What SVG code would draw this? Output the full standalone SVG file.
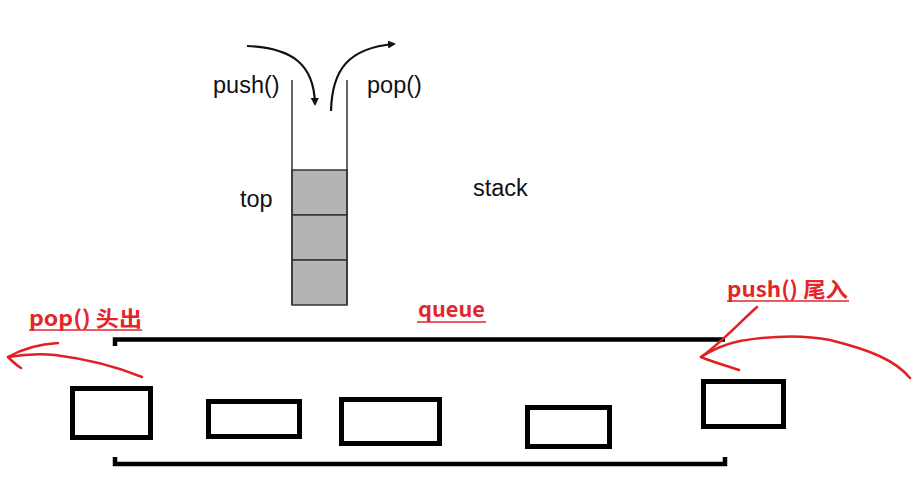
<svg xmlns="http://www.w3.org/2000/svg" width="924" height="480" viewBox="0 0 924 480">
<style>
.lbl{font-family:"Liberation Sans",Arial,sans-serif;font-size:23.5px;fill:#111}
.red{font-family:"Noto Sans CJK SC","Noto Sans",sans-serif;font-weight:bold;font-size:21px;fill:#e4262a}
.ul{stroke:#e4262a;stroke-width:1.5}
.wall{stroke:#333;stroke-width:1.5;fill:none}
.cell{fill:#b4b4b4;stroke:#333;stroke-width:1.5}
.curve{fill:none;stroke:#111;stroke-width:2.2}
.box{fill:none;stroke:#000;stroke-width:5}
.bar{fill:none;stroke:#000;stroke-width:4.5}
.pen{fill:none;stroke:#e02024;stroke-width:2.5;stroke-linecap:round;stroke-linejoin:round}
</style>
<defs>
<marker id="ah" markerWidth="8" markerHeight="8" refX="6" refY="4" orient="auto" markerUnits="userSpaceOnUse" viewBox="0 0 8 8">
<path d="M0,0 L8,4 L0,8 z" fill="#111"/>
</marker>
</defs>
<rect width="924" height="480" fill="#fff"/>

<g id="stack">
<rect class="cell" x="292" y="170" width="55" height="45"/>
<rect class="cell" x="292" y="215" width="55" height="45"/>
<rect class="cell" x="292" y="260" width="55" height="45"/>
<line class="wall" x1="292" y1="80" x2="292" y2="305"/>
<line class="wall" x1="347" y1="80" x2="347" y2="305"/>
<text class="lbl" x="213" y="93">push()</text>
<text class="lbl" x="367" y="93">pop()</text>
<text class="lbl" x="240" y="207">top</text>
<text class="lbl" x="473" y="196">stack</text>
</g>

<g id="queue">
<path class="bar" d="M115,346 V339.5 H725"/>
<path class="bar" d="M115,457 V464 H725 V457"/>
<text class="red" x="418" y="317" textLength="67" lengthAdjust="spacingAndGlyphs">queue</text>
<line class="ul" x1="417" y1="322" x2="486" y2="322"/>
<rect id="q1" class="box" x="72.5" y="388.5" width="78" height="49"/>
<rect id="q2" class="box" x="208.5" y="401.5" width="91" height="35"/>
<rect id="q3" class="box" x="341.5" y="399.5" width="98" height="44"/>
<rect id="q4" class="box" x="527.5" y="407.5" width="82" height="39"/>
<rect id="q5" class="box" x="703.5" y="381.5" width="80" height="45"/>
</g>

<g id="pop-label">
<text class="red" x="29" y="326" textLength="113" lengthAdjust="spacingAndGlyphs">pop() 头出</text>
<line class="ul" x1="29" y1="330" x2="142" y2="330"/>
</g>
<g id="push-label">
<text class="red" x="727" y="297" textLength="121" lengthAdjust="spacingAndGlyphs">push() 尾入</text>
<line class="ul" x1="727" y1="301" x2="849" y2="301"/>
</g>

<g id="connectors">
<path class="curve" d="M247,46 C292,48 314,64 315,104" marker-end="url(#ah)"/>
<path class="curve" d="M331,111 C332,70 348,48 394,44" marker-end="url(#ah)"/>
<path class="pen" d="M142,377 C120,368 95,360 55,355 C35,353 20,355 8,357"/>
<path class="pen" d="M58,343 C40,344 22,349 8,357 C12,361 16,365 21,368"/>
<path class="pen" d="M910,378 C895,360 870,350 830,340 C800,334 770,336 740,341 C725,344 712,350 701,357"/>
<path class="pen" d="M757,307 C740,322 722,342 701,357 C715,363 728,366 739,370"/>
</g>
</svg>
